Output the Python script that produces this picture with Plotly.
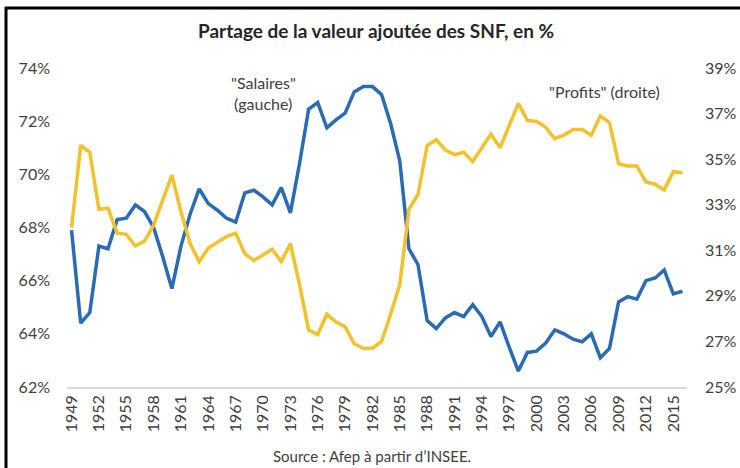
import plotly.graph_objects as go

years = list(range(1949, 2017))

salaires = [
    67.9, 64.4, 64.8, 67.3, 67.2, 68.3, 68.35, 68.85, 68.6, 68.0,   # 1949-1958
    66.9, 65.7, 67.3, 68.5, 69.45, 68.9, 68.65, 68.35, 68.2, 69.3,  # 1959-1968
    69.4, 69.15, 68.85, 69.5, 68.55, 70.4, 72.45, 72.7, 71.75, 72.05,  # 1969-1978
    72.3, 73.1, 73.3, 73.3, 73.0, 71.9, 70.5, 67.2, 66.6, 64.5,   # 1979-1988
    64.2, 64.6, 64.8, 64.65, 65.1, 64.65, 63.9, 64.45, 63.5, 62.6,  # 1989-1998
    63.3, 63.35, 63.65, 64.15, 64.0, 63.8, 63.7, 64.0, 63.1, 63.45,  # 1999-2008
    65.2, 65.4, 65.3, 66.0, 66.1, 66.4, 65.5, 65.6,  # 2009-2016
]

profits = [
    32.0, 35.6, 35.3, 32.8, 32.85, 31.75, 31.7, 31.2, 31.4, 32.1,  # 1949-1958
    33.2, 34.3, 32.7, 31.3, 30.5, 31.1, 31.35, 31.6, 31.75, 30.85,  # 1959-1968
    30.55, 30.8, 31.05, 30.5, 31.3, 29.5, 27.5, 27.3, 28.2, 27.85,  # 1969-1978
    27.65, 26.9, 26.7, 26.7, 27.0, 28.2, 29.5, 32.8, 33.45, 35.6,   # 1979-1988
    35.85, 35.4, 35.2, 35.3, 34.9, 35.5, 36.1, 35.5, 36.5, 37.45,   # 1989-1998
    36.7, 36.65, 36.4, 35.9, 36.05, 36.3, 36.3, 36.05, 36.9, 36.6,  # 1999-2008
    34.8, 34.7, 34.7, 34.0, 33.9, 33.65, 34.45, 34.4,  # 2009-2016
]

x_tick_years = [1949, 1952, 1955, 1958, 1961, 1964, 1967, 1970, 1973, 1976, 1979,
                1982, 1985, 1988, 1991, 1994, 1997, 2000, 2003, 2006, 2009, 2012, 2015]
left_ticks = [62, 64, 66, 68, 70, 72, 74]
left_labels = ["62%", "64%", "66%", "68%", "70%", "72%", "74%"]
right_ticks = [25, 27, 29, 31, 33, 35, 37, 39]
right_labels = ["25%", "27%", "29%", "31%", "33%", "35%", "37%", "39%"]

title_text = "Partage de la valeur ajoutée des SNF, en %"
source_text = "Source : Afep à partir d\u2019INSEE."

W, H = 740, 468
L, R, T, B = 67, 53, 68, 81
PW, PH = W - L - R, H - T - B

def px(xp):
    return (xp - L) / PW

def py(yp):
    return 1 - (yp - T) / PH

FONT = "Lato"
TXT = "#404040"
FS = 16

fig = go.Figure()
fig.add_trace(go.Scatter(x=years, y=salaires, mode="lines",
                         line=dict(color="#2a6bb5", width=3.5), yaxis="y",
                         showlegend=False))
fig.add_trace(go.Scatter(x=years, y=profits, mode="lines",
                         line=dict(color="#f3c12c", width=3.5), yaxis="y2",
                         showlegend=False))

fig.update_layout(
    width=W, height=H,
    margin=dict(l=L, r=R, t=T, b=B, pad=0, autoexpand=False),
    paper_bgcolor="white", plot_bgcolor="white",
    font=dict(family=FONT, size=FS, color=TXT),
    xaxis=dict(range=[1948.5, 2016.5], tickvals=x_tick_years,
               ticktext=[str(y) for y in x_tick_years], tickangle=-90,
               showgrid=False, zeroline=False, showline=True, automargin=False,
               linecolor="#d9d9d9", linewidth=1.5, ticks="",
               ticklabelstandoff=0, tickfont=dict(size=16, color=TXT)),
    yaxis=dict(range=[62, 74], tickvals=left_ticks, ticktext=left_labels,
               showgrid=False, zeroline=False, showline=False, ticks="",
               automargin=False,
               ticklabelstandoff=16, tickfont=dict(size=FS, color=TXT)),
    yaxis2=dict(range=[25, 39], tickvals=right_ticks, ticktext=right_labels,
                overlaying="y", side="right", automargin=False,
                showgrid=False, zeroline=False, showline=False, ticks="",
                ticklabelstandoff=17, tickfont=dict(size=FS, color=TXT)),
)

fig.add_annotation(text="<b>" + title_text + "</b>", x=px(376), y=py(30),
                   xref="paper", yref="paper", showarrow=False,
                   xanchor="center", yanchor="middle",
                   font=dict(family=FONT, size=19, color="#262626"))

annos = [
    ("\"Salaires\"", 263, 82),
    ("(gauche)", 263, 103),
    ("\"Profits\" (droite)", 604, 91),
]
for t, xp, yp in annos:
    fig.add_annotation(text=t, x=px(xp), y=py(yp), xref="paper", yref="paper",
                       showarrow=False, xanchor="center", yanchor="middle",
                       font=dict(family=FONT, size=FS, color=TXT))

fig.add_annotation(text=source_text, x=px(372), y=py(456), xref="paper", yref="paper",
                   showarrow=False, xanchor="center", yanchor="middle",
                   font=dict(family=FONT, size=15, color=TXT))

# frame lines (top and left)
fig.add_shape(type="line", xref="paper", yref="paper",
              x0=px(5), x1=px(745), y0=py(8), y1=py(8),
              line=dict(color="black", width=3))
fig.add_shape(type="line", xref="paper", yref="paper",
              x0=px(6), x1=px(6), y0=py(7), y1=py(475),
              line=dict(color="black", width=3))

fig.write_html("out.html", config={"displayModeBar": False},
               post_script="document.body.style.margin='0px';document.body.style.overflow='hidden';")
